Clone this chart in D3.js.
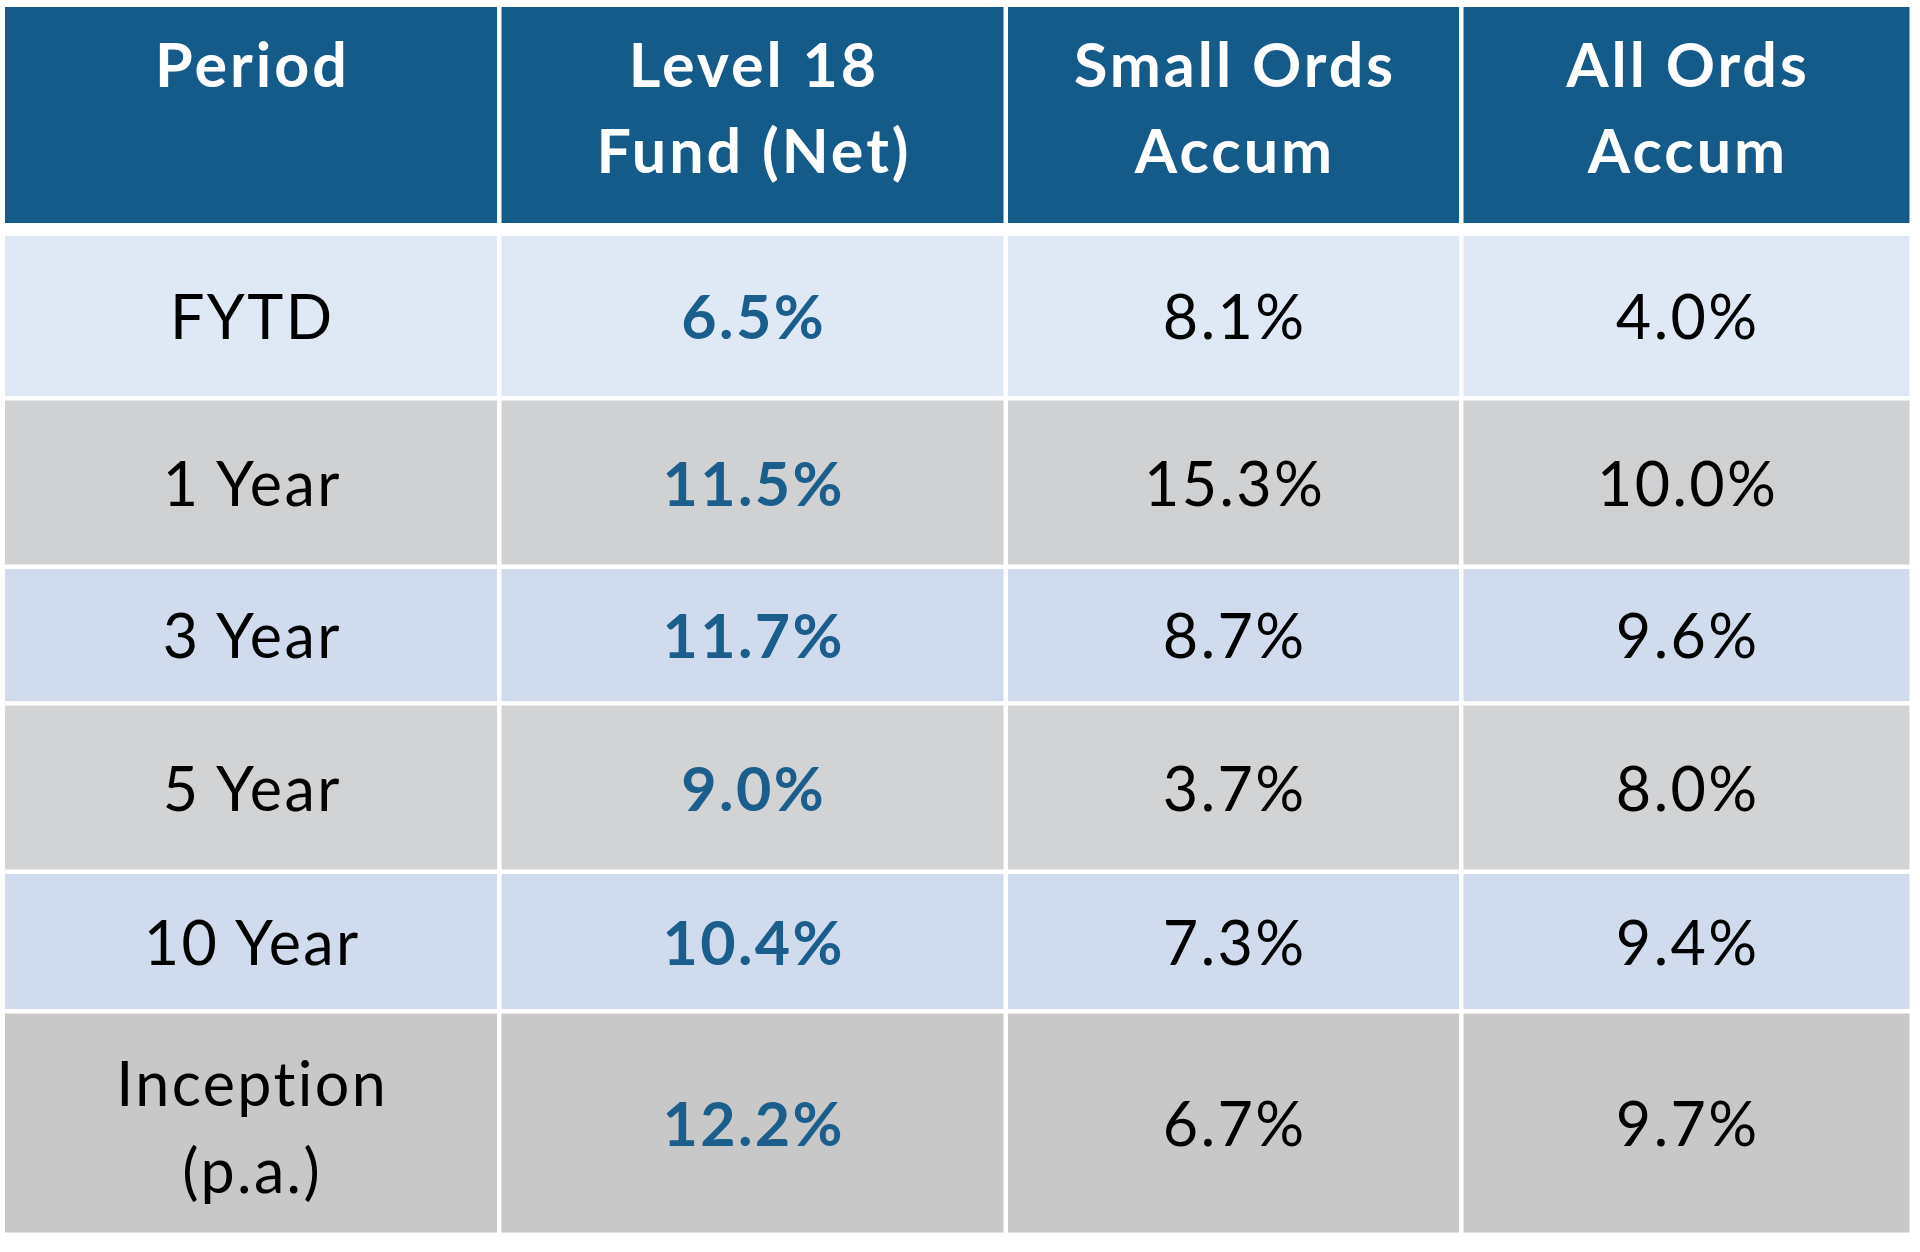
<!DOCTYPE html>
<html>
<head>
<meta charset="utf-8">
<script src="https://cdn.jsdelivr.net/npm/d3@7"></script>
<style>
  body { margin: 0; background: #fff; }
  text { font-family: Lato, "Open Sans", sans-serif; font-variant-ligatures: none; }
</style>
</head>
<body>
<script>
// table content
var headers = [["Period"], ["Level 18", "Fund (Net)"], ["Small Ords", "Accum"], ["All Ords", "Accum"]];
var periods = [["FYTD"], ["1 Year"], ["3 Year"], ["5 Year"], ["10 Year"], ["Inception", "(p.a.)"]];
var fundNet = ["6.5%", "11.5%", "11.7%", "9.0%", "10.4%", "12.2%"];
var smallOrds = ["8.1%", "15.3%", "8.7%", "3.7%", "7.3%", "6.7%"];
var allOrds = ["4.0%", "10.0%", "9.6%", "8.0%", "9.4%", "9.7%"];

// layout (pixels), kept apart from the data
var colWidths = [492, 502, 451, 446];
var rowHeights = [160, 164, 132, 164, 135, 219];
var rowFills = ["#dee9f5", "#d0d1d3", "#d0dcee", "#d2d3d5", "#d0dcee", "#c8c8c8"];
var gap = 4.5;
var left = 5, headTop = 7, headH = 216, bodyTop = 236;
var fontSize = 61, lineGap = 87;
var headSpacing = 3, bodySpacing = 2.4;

var width = 1920, height = 1252;

var svg = d3.select("body").append("svg")
    .attr("width", width)
    .attr("height", height);

// x position of each column from cumulative widths
var colIdx = d3.range(colWidths.length);
var colStarts = colIdx.map(function(i) { return left + d3.sum(colWidths.slice(0, i)) + i * gap; });
var xCol = d3.scaleOrdinal().domain(colIdx).range(colStarts);

var rowIdx = d3.range(periods.length);
var rowStarts = rowIdx.map(function(i) { return bodyTop + d3.sum(rowHeights.slice(0, i)) + i * gap; });
var yRow = d3.scaleOrdinal().domain(rowIdx).range(rowStarts);

// header
var head = svg.append("g");
head.selectAll("rect")
    .data(headers)
    .enter()
    .append("rect")
    .attr("x", function(d, i) { return xCol(i); })
    .attr("y", headTop)
    .attr("width", function(d, i) { return colWidths[i]; })
    .attr("height", headH)
    .attr("fill", "#155b89");

head.selectAll("text")
    .data(headers)
    .enter()
    .append("text")
    .attr("text-anchor", "middle")
    .attr("fill", "#fff")
    .attr("font-weight", "bold")
    .attr("font-size", fontSize)
    .attr("letter-spacing", headSpacing)
    .each(function(d, i) {
        var t = d3.select(this);
        d.forEach(function(line, j) {
            t.append("tspan")
                .attr("x", xCol(i) + colWidths[i] / 2 + headSpacing / 2)
                .attr("y", headTop + 80 + j * (lineGap - 1))
                .text(line);
        });
    });

// body
var rows = rowIdx.map(function(i) {
    return [periods[i], [fundNet[i]], [smallOrds[i]], [allOrds[i]]];
});

var rowG = svg.selectAll("g.row")
    .data(rows)
    .enter()
    .append("g")
    .attr("class", "row");

rowG.each(function(row, r) {
    var g = d3.select(this);
    g.selectAll("rect")
        .data(row)
        .enter()
        .append("rect")
        .attr("x", function(d, c) { return xCol(c); })
        .attr("y", yRow(r))
        .attr("width", function(d, c) { return colWidths[c]; })
        .attr("height", rowHeights[r])
        .attr("fill", rowFills[r]);

    var cy = yRow(r) + rowHeights[r] / 2;
    g.selectAll("text")
        .data(row)
        .enter()
        .append("text")
        .attr("text-anchor", "middle")
        .attr("font-size", fontSize)
        .attr("letter-spacing", bodySpacing)
        .attr("font-weight", function(d, c) { return c === 1 ? "bold" : "normal"; })
        .attr("fill", function(d, c) { return c === 1 ? "#1b5e8c" : "#000"; })
        .each(function(d, c) {
            var t = d3.select(this);
            d.forEach(function(line, j) {
                t.append("tspan")
                    .attr("x", xCol(c) + colWidths[c] / 2 + bodySpacing / 2)
                    .attr("y", cy + 23 + (j - (d.length - 1) / 2) * lineGap + (d.length > 1 ? 3 : 0))
                    .text(line);
            });
        });
});
</script>
</body>
</html>
